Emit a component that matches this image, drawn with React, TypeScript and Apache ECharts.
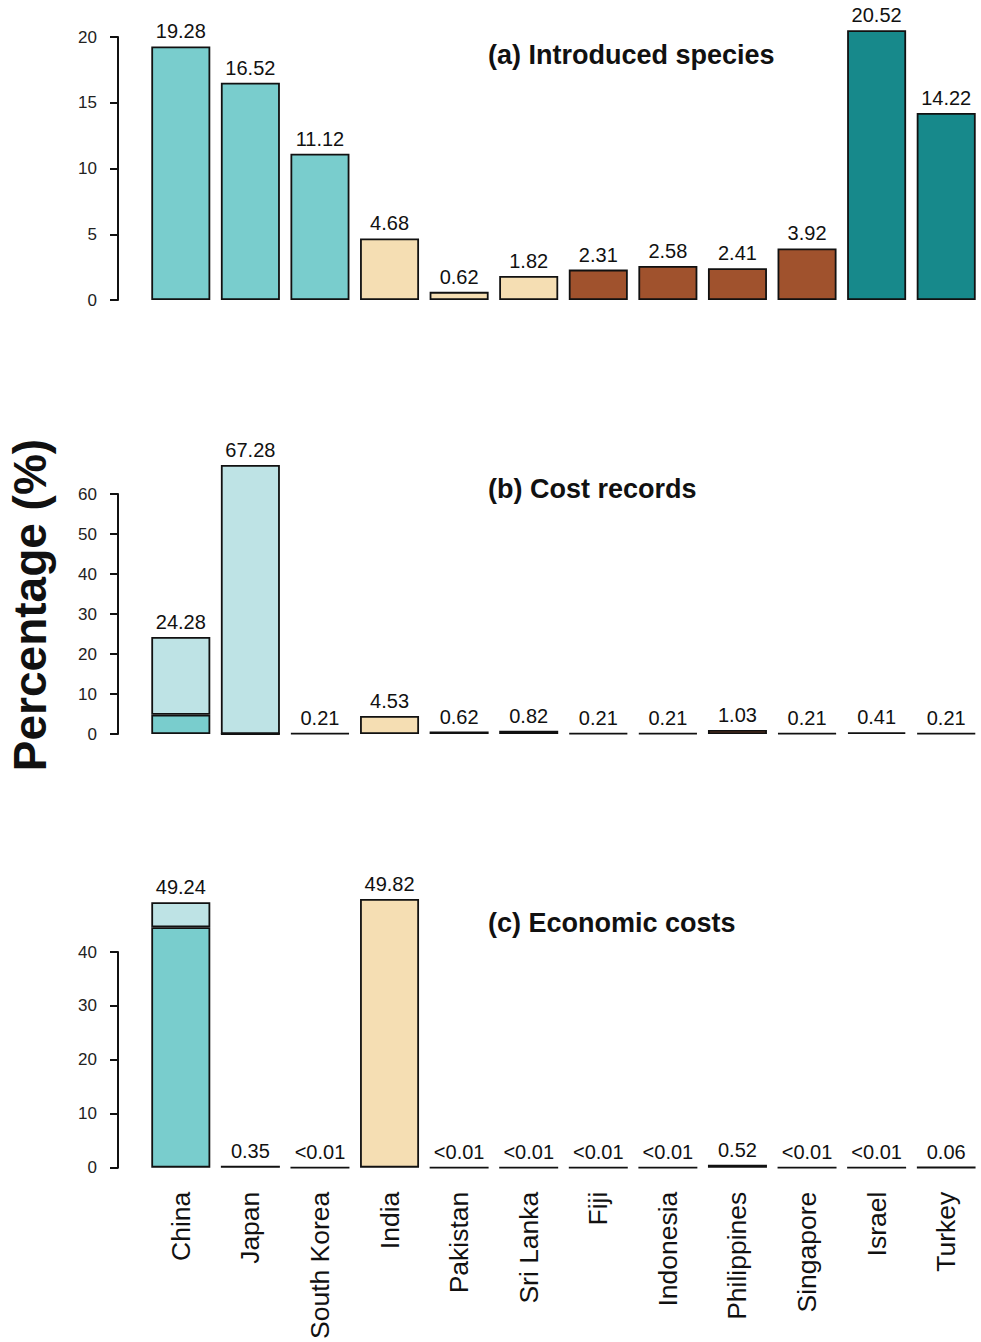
import React, { useEffect, useRef } from "react";
import * as echarts from "echarts";

const countries = ["China", "Japan", "South Korea", "India", "Pakistan", "Sri Lanka", "Fiji", "Indonesia", "Philippines", "Singapore", "Israel", "Turkey"];

const mainColors = ["#79CDCD", "#79CDCD", "#79CDCD", "#F5DEB3", "#F5DEB3", "#F5DEB3", "#A0522D", "#A0522D", "#A0522D", "#A0522D", "#17898B", "#17898B"];
const lightColors = ["#BEE3E5", "#BEE3E5", "#BEE3E5", "#F5DEB3", "#F5DEB3", "#F5DEB3", "#A0522D", "#A0522D", "#A0522D", "#A0522D", "#17898B", "#17898B"];

// (a) Introduced species
const introBottom = [19.28, 16.52, 11.12, 4.68, 0.62, 1.82, 2.31, 2.58, 2.41, 3.92, 20.52, 14.22];
const introTop = [0, 0, 0, 0, 0, 0, 0, 0, 0, 0, 0, 0];
const introLabels = ["19.28", "16.52", "11.12", "4.68", "0.62", "1.82", "2.31", "2.58", "2.41", "3.92", "20.52", "14.22"];

// (b) Cost records
const recBottom = [4.8, 0, 0.21, 4.53, 0.62, 0.82, 0.21, 0.21, 1.03, 0.21, 0.41, 0.21];
const recTop = [19.48, 67.28, 0, 0, 0, 0, 0, 0, 0, 0, 0, 0];
const recLabels = ["24.28", "67.28", "0.21", "4.53", "0.62", "0.82", "0.21", "0.21", "1.03", "0.21", "0.41", "0.21"];

// (c) Economic costs
const costBottom = [44.6, 0.35, 0.005, 49.82, 0.005, 0.005, 0.005, 0.005, 0.52, 0.005, 0.005, 0.06];
const costTop = [4.64, 0, 0, 0, 0, 0, 0, 0, 0, 0, 0, 0];
const costLabels = ["49.24", "0.35", "<0.01", "49.82", "<0.01", "<0.01", "<0.01", "<0.01", "0.52", "<0.01", "<0.01", "0.06"];

const panelTitles = ["(a) Introduced species", "(b) Cost records", "(c) Economic costs"];
const yMax = [20, 60, 40];
const yInterval = [5, 10, 10];

const FONT = "'Liberation Sans', Arial, Helvetica, sans-serif";

export default function App() {
  const ref = useRef<HTMLDivElement>(null);

  useEffect(() => {
    if (!ref.current) return;
    const chart = echarts.init(ref.current, null, { renderer: "svg" });

    const grids = [
      { left: 146, width: 837, top: 37, height: 263 },
      { left: 146, width: 837, top: 494, height: 240 },
      { left: 146, width: 837, top: 952, height: 216 },
    ];

    const panels = [
      { bottom: introBottom, top: introTop, labels: introLabels },
      { bottom: recBottom, top: recTop, labels: recLabels },
      { bottom: costBottom, top: costTop, labels: costLabels },
    ];

    const xAxis = grids.map((_, i) => ({
      type: "category",
      gridIndex: i,
      data: countries,
      boundaryGap: true,
      axisLine: { show: false },
      axisTick: { show: false },
      axisLabel: {
        show: i === 2,
        rotate: 90,
        interval: 0,
        margin: 24,
        fontSize: 26.5,
        fontFamily: FONT,
        color: "#111",
      },
    }));

    const yAxis = grids.map((_, i) => ({
      type: "value",
      gridIndex: i,
      min: 0,
      max: yMax[i],
      interval: yInterval[i],
      offset: 28,
      splitLine: { show: false },
      axisLine: { show: true, lineStyle: { color: "#111", width: 2 } },
      axisTick: { show: true, length: 8, lineStyle: { color: "#111", width: 2 } },
      axisLabel: { fontSize: 17, fontFamily: FONT, color: "#222", margin: 21 },
    }));

    const labelStyle = {
      position: "top",
      distance: 5,
      fontSize: 20,
      fontFamily: FONT,
      color: "#111",
    };

    const series: any[] = [];
    panels.forEach((p, i) => {
      series.push({
        type: "bar",
        xAxisIndex: i,
        yAxisIndex: i,
        stack: "s" + i,
        barWidth: 59,
        clip: false,
        data: p.bottom.map((v, k) => ({
          value: v,
          itemStyle: { color: mainColors[k], borderColor: "#111", borderWidth: 1.8 },
          label: { show: p.top[k] === 0, ...labelStyle, formatter: p.labels[k] },
        })),
      });
      series.push({
        type: "bar",
        xAxisIndex: i,
        yAxisIndex: i,
        stack: "s" + i,
        barWidth: 59,
        clip: false,
        data: p.top.map((v, k) =>
          v === 0
            ? "-"
            : {
                value: v,
                itemStyle: { color: lightColors[k], borderColor: "#111", borderWidth: 1.8 },
                label: { show: true, ...labelStyle, formatter: p.labels[k] },
              }
        ),
      });
    });

    const titleY = [56, 490, 924];
    const graphic: any[] = panelTitles.map((t, i) => ({
      type: "text",
      left: 488,
      top: titleY[i] - 15,
      style: {
        text: t,
        fontSize: 27,
        fontWeight: "bold",
        fontFamily: FONT,
        fill: "#111",
      },
    }));
    graphic.push({
      type: "text",
      x: 30,
      y: 605,
      rotation: Math.PI / 2,
      style: {
        text: "Percentage (%)",
        fontSize: 46,
        fontWeight: "bold",
        fontFamily: FONT,
        fill: "#111",
        align: "center",
        verticalAlign: "middle",
      },
    });

    chart.setOption({
      animation: false,
      backgroundColor: "#fff",
      grid: grids,
      xAxis,
      yAxis,
      series,
      graphic,
    });

    return () => chart.dispose();
  }, []);

  return (
    <div
      ref={ref}
      style={{ position: "absolute", left: 0, top: 0, width: 981, height: 1342 }}
    />
  );
}
